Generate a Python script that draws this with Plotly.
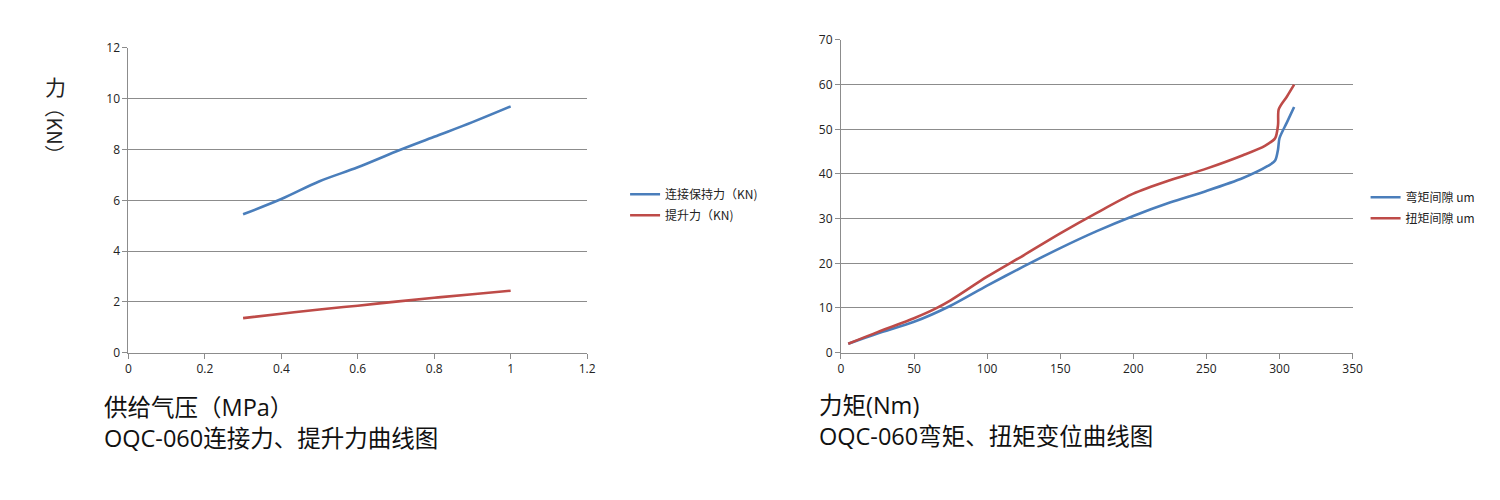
import plotly.graph_objects as go

# ---- Left chart data ----
pressure = [0.3, 0.4, 0.5, 0.6, 0.7, 0.8, 0.9, 1.0]
hold_force = [5.45, 6.05, 6.75, 7.3, 7.92, 8.5, 9.08, 9.7]
lift_force = [1.36, 1.53, 1.7, 1.85, 2.01, 2.16, 2.3, 2.44]

# ---- Right chart data ----
torque_b = [5, 25, 50, 75, 100, 125, 150, 175, 200, 225, 250, 275, 292, 297, 299, 300, 305, 310]
bend_gap = [2, 4.3, 6.9, 10.5, 15.0, 19.3, 23.4, 27.2, 30.6, 33.6, 36.2, 39.1, 41.8, 43.0, 45.5, 48.0, 51.5, 55.0]
torque_t = [5, 25, 50, 65, 75, 100, 125, 150, 175, 200, 225, 250, 275, 290, 297, 299, 299.5, 305, 310]
twist_gap = [2, 4.6, 7.7, 9.9, 11.7, 17.0, 21.8, 26.7, 31.3, 35.6, 38.6, 41.2, 44.2, 46.3, 48.0, 51.0, 54.5, 57.3, 60.0]

BLUE = "#4A7EBB"
RED = "#BE4B48"
GRID = "#8C8C8C"
FONT = "Open Sans, Noto Sans CJK SC, sans-serif"
CJK = "Noto Sans CJK SC, sans-serif"

W, H = 1500, 500


def px(t):
    return ((t - 2.5) / 0.992) / W


def py(t):
    return 1 - ((t - 8) / 0.967) / H


fig = go.Figure()
fig.add_trace(go.Scatter(x=pressure, y=hold_force, mode="lines", name="连接保持力（KN)", legendgroup="a",
                         line=dict(color=BLUE, width=2.6, shape="spline"), xaxis="x", yaxis="y", legend="legend"))
fig.add_trace(go.Scatter(x=pressure, y=lift_force, mode="lines", name="提升力（KN)", legendgroup="b",
                         line=dict(color=RED, width=2.6, shape="spline"), xaxis="x", yaxis="y", legend="legend"))
fig.add_trace(go.Scatter(x=torque_b, y=bend_gap, mode="lines", name="弯矩间隙 um", legendgroup="c",
                         line=dict(color=BLUE, width=2.6, shape="spline", smoothing=0.8), xaxis="x2", yaxis="y2", legend="legend2"))
fig.add_trace(go.Scatter(x=torque_t, y=twist_gap, mode="lines", name="扭矩间隙 um", legendgroup="d",
                         line=dict(color=RED, width=2.6, shape="spline", smoothing=0.8), xaxis="x2", yaxis="y2", legend="legend2"))

axis_common = dict(showline=True, linecolor=GRID, linewidth=1, ticks="outside", ticklen=5,
                   tickcolor=GRID, tickfont=dict(family=FONT, size=12, color="#222"), zeroline=False)

legend_common = dict(xanchor="left", yanchor="top", font=dict(family=CJK, size=12, color="#222"),
                     bgcolor="rgba(0,0,0,0)", tracegroupgap=2, itemwidth=30)

fig.update_layout(
    width=W, height=H, margin=dict(l=0, r=0, t=0, b=0),
    paper_bgcolor="white", plot_bgcolor="white", font=dict(family=FONT),
    xaxis=dict(domain=[px(128), px(587)], range=[0, 1.2], dtick=0.2, showgrid=False, anchor="y", **axis_common),
    yaxis=dict(domain=[py(352), py(47)], range=[0, 12], dtick=2, showgrid=True, gridcolor=GRID, anchor="x", **axis_common),
    xaxis2=dict(domain=[px(841), px(1353)], range=[0, 350], dtick=50, showgrid=False, anchor="y2", **axis_common),
    yaxis2=dict(domain=[py(352), py(39)], range=[0, 70], dtick=10, showgrid=True, gridcolor=GRID, anchor="x2", **axis_common),
    legend=dict(x=px(625), y=py(179), **legend_common),
    legend2=dict(x=px(1366), y=py(182), **legend_common),
    showlegend=True,
)

ann = [
    dict(text="力", x=55, y=85, size=21, angle=0),
    dict(text="（KN）", x=55, y=130, size=20, angle=90),
]
for a in ann:
    fig.add_annotation(text=a["text"], x=px(a["x"]), y=py(a["y"]), xref="paper", yref="paper",
                       showarrow=False, textangle=a["angle"], font=dict(family=CJK, size=a["size"], color="#222"),
                       xanchor="center", yanchor="middle")

titles = [
    ("供给气压（MPa）<br>OQC-060连接力、提升力曲线图", 102, 422),
    ("力矩(Nm)<br>OQC-060弯矩、扭矩变位曲线图", 817, 420),
]
for t, x, y in titles:
    fig.add_annotation(text=t, x=px(x), y=py(y), xref="paper", yref="paper", showarrow=False, align="left",
                       xanchor="left", yanchor="middle", font=dict(family=FONT, size=23.5, color="#111"))

fig.write_html("out.html")
